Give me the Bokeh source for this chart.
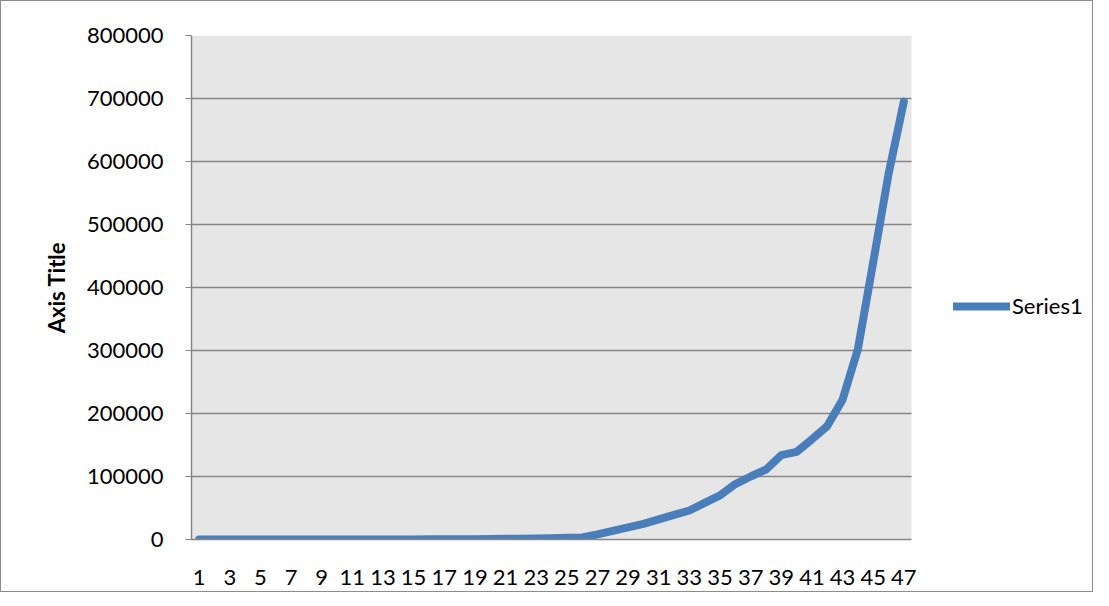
from bokeh.plotting import figure
from bokeh.models import (Range1d, FixedTicker, BasicTickFormatter, Legend, LegendItem,
                          ColumnDataSource, BoxAnnotation)
from bokeh.embed import file_html
from bokeh.resources import INLINE

# ---- data ----
categories = list(range(1, 48))
series1 = [0, 0, 0, 0, 2, 3, 6, 10, 15, 30,
           45, 60, 80, 110, 150, 200, 280, 400, 550, 750,
           1000, 1300, 1700, 2100, 2600, 3300, 8200, 13800, 19300, 24900,
           31900, 39000, 46000, 58000, 70000, 88000, 100000, 111000, 134000, 139000,
           159000, 180000, 222000, 302000, 440000, 580000, 695000]
x_tick_labels = list(range(1, 48, 2))
y_ticks = list(range(0, 800001, 100000))

FONT = "Lato"
BLUE = "#4a7ebb"
GRAY = "#868686"

W, H = 1093, 592
LEFT, TOP, BOTTOM = 190, 34, 54
PLOT_W = 720  # width of the grey plot area

x_lo = categories[0] - 0.5
x_hi = categories[-1] + 0.5
x_end = x_lo + (x_hi - x_lo) * (W - LEFT) / PLOT_W

src = ColumnDataSource(dict(x=categories, y=series1))

p = figure(width=W, height=H, output_backend="svg", toolbar_location=None,
           x_range=Range1d(x_lo, x_end), y_range=Range1d(0, y_ticks[-1]),
           min_border_left=LEFT, min_border_right=0, min_border_top=TOP, min_border_bottom=BOTTOM)
p.styles = {"border": "1px solid #8c8c8c"}
p.background_fill_color = "white"
p.border_fill_color = "white"
p.outline_line_color = None

bg = BoxAnnotation(left=x_lo, right=x_hi, bottom=0, top=y_ticks[-1],
                   fill_color="#e6e6e6", fill_alpha=1, line_color=None, level="image")
p.add_layout(bg)

r = p.line("x", "y", source=src, line_color=BLUE, line_width=8, line_cap="round", line_join="round")

# y axis
yax = p.yaxis[0]
yax.ticker = FixedTicker(ticks=y_ticks)
yax.formatter = BasicTickFormatter(use_scientific=False)
yax.axis_line_color = GRAY
yax.axis_line_width = 1.5
yax.major_tick_line_color = GRAY
yax.major_tick_in = 0
yax.major_tick_out = 6
yax.minor_tick_line_color = None
yax.major_label_text_font = FONT
yax.major_label_text_font_size = "22px"
yax.major_label_text_color = "black"
yax.major_label_standoff = 22
yax.axis_label = "Axis Title"
yax.axis_label_text_font = FONT
yax.axis_label_text_font_style = "bold"
yax.axis_label_text_font_size = "22px"
yax.axis_label_text_color = "black"
yax.axis_label_standoff = 14

# x axis
xax = p.xaxis[0]
xax.ticker = FixedTicker(ticks=x_tick_labels)
xax.bounds = (x_lo, x_hi)
xax.axis_line_color = GRAY
xax.axis_line_width = 1.5
xax.major_tick_line_color = None
xax.minor_tick_line_color = None
xax.major_label_text_font = FONT
xax.major_label_text_font_size = "22px"
xax.major_label_text_color = "black"
xax.major_label_standoff = 24

p.xgrid.grid_line_color = None
p.ygrid.grid_line_color = GRAY
p.ygrid.grid_line_width = 1.5
p.ygrid.cross_bounds = (x_lo, x_hi)

legend = Legend(items=[LegendItem(label="Series1", renderers=[r])], location=(762, 220),
                orientation="vertical", padding=0, margin=0, spacing=0,
                border_line_color=None, background_fill_alpha=0,
                glyph_width=57, glyph_height=24, label_standoff=2,
                label_text_font=FONT, label_text_font_size="22px", label_text_color="black")
p.add_layout(legend)

open("out.html", "w").write(file_html(p, INLINE))
